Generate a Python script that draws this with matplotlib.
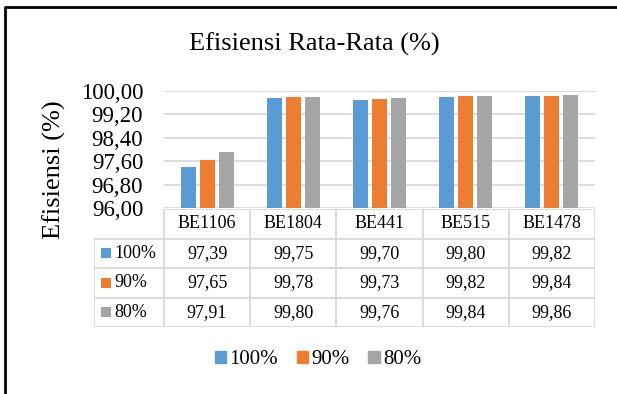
import matplotlib
matplotlib.use("Agg")
import matplotlib.pyplot as plt
from matplotlib.lines import Line2D
from matplotlib.patches import Rectangle
import numpy as np

plt.rcParams['font.family'] = ['Liberation Serif', 'DejaVu Serif']

categories = ["BE1106", "BE1804", "BE441", "BE515", "BE1478"]
series_names = ["100%", "90%", "80%"]
eff_100 = [97.39, 99.75, 99.70, 99.80, 99.82]
eff_90 = [97.65, 99.78, 99.73, 99.82, 99.84]
eff_80 = [97.91, 99.80, 99.76, 99.84, 99.86]
series_values = [eff_100, eff_90, eff_80]
colors = ["#5B9BD5", "#ED7D31", "#A5A5A5"]
yticks = [96.00, 96.80, 97.60, 98.40, 99.20, 100.00]

W, H = 617, 394
fig = plt.figure(figsize=(W / 100, H / 100), dpi=100)


def box(x0, y0, x1, y1):
    # pixel box (top-left origin) -> figure fraction rect
    return [x0 / W, 1 - y1 / H, (x1 - x0) / W, (y1 - y0) / H]


grid_c = "#D9D9D9"

# main plot area
ax = fig.add_axes(box(164, 91, 595, 208))
x = np.arange(len(categories))
bw = 0.174
step = 0.22
for i, (vals, c) in enumerate(zip(series_values, colors)):
    ax.bar(x + (i - 1) * step, vals, width=bw, color=c, zorder=3)
ax.set_xlim(-0.5, len(categories) - 0.5)
ax.set_ylim(96, 100)
ax.set_yticks(yticks)
ax.set_yticklabels([f"{v:.2f}".replace(".", ",") for v in yticks], fontsize=16.5)
ax.tick_params(axis="y", length=0, pad=15)
ax.set_xticks([])
ax.grid(axis="y", color=grid_c, linewidth=1.3, zorder=0)
for s in ax.spines.values():
    s.set_visible(False)

fig.text(314 / W, 1 - 44 / H, "Efisiensi Rata-Rata (%)", ha="center", va="center",
         fontsize=19)
fig.text(54 / W, 1 - 170 / H, "Efisiensi (%)", ha="center", va="center",
         rotation=90, fontsize=19)

# data table under the bars
tax = fig.add_axes(box(94, 209, 595, 327))
lab_w = 70 / 86.2
x_left = -0.5 - lab_w
tax.set_xlim(x_left, len(categories) - 0.5)
tax.set_ylim(4, 0)
tax.axis("off")
lw = 1.3
tax.add_line(Line2D([-0.5, 4.5], [0, 0], color=grid_c, lw=lw))
for r in range(1, 5):
    tax.add_line(Line2D([x_left, 4.5], [r, r], color=grid_c, lw=lw))
for k in range(len(categories) + 1):
    tax.add_line(Line2D([k - 0.5, k - 0.5], [0, 4], color=grid_c, lw=lw))
tax.add_line(Line2D([x_left, x_left], [1, 4], color=grid_c, lw=lw))

for k, cat in enumerate(categories):
    tax.text(k, 0.5, cat, ha="center", va="center", fontsize=13)
for r, (name, vals, c) in enumerate(zip(series_names, series_values, colors)):
    yc = r + 1.5
    tax.add_patch(Rectangle((x_left + 7 / 86.2, yc - 0.17), 10 / 86.2, 0.34,
                            color=c, lw=0))
    tax.text(x_left + 20 / 86.2, yc, name, ha="left", va="center", fontsize=13)
    for k, v in enumerate(vals):
        tax.text(k, yc, f"{v:.2f}".replace(".", ","), ha="center", va="center",
                 fontsize=13)

# legend below the table
handles = [Rectangle((0, 0), 1, 1, color=c) for c in colors]
fig.legend(handles, series_names, loc="center", bbox_to_anchor=(318 / W, 1 - 360 / H),
           ncol=3, frameon=False, fontsize=15, handlelength=0.55, handleheight=0.55,
           handletextpad=0.15, columnspacing=0.9)

# chart frame (top and left edges)
fig.add_artist(Line2D([5 / W, 5 / W, 1], [0, 1 - 7 / H, 1 - 7 / H],
                      transform=fig.transFigure, color="black", lw=2))

fig.savefig("out.png", dpi=100, facecolor="white")
